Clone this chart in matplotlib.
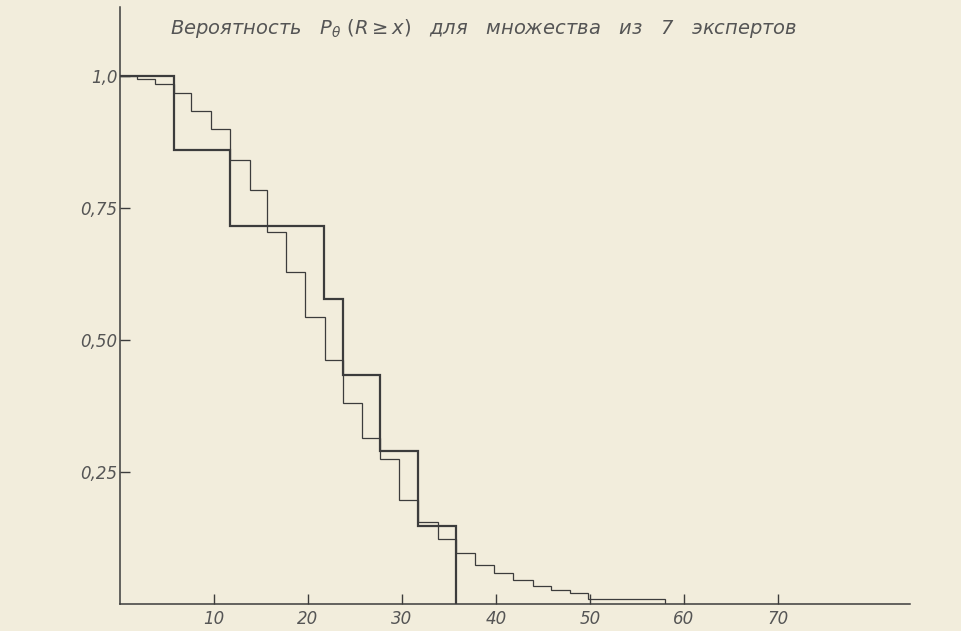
import matplotlib.pyplot as plt

# step curves: x where a new level starts, level from there on
thick_x = [0, 5.7, 11.7, 21.7, 23.7, 27.7, 31.7, 35.7]
thick_p = [1.0, 0.859, 0.716, 0.577, 0.433, 0.290, 0.148, 0.0]

thin_x = [0, 1.8, 3.7, 5.7, 7.6, 9.65, 11.7, 13.8, 15.6, 17.7, 19.7, 21.8,
          23.7, 25.7, 27.7, 29.7, 31.7, 33.8, 35.7, 37.8, 39.8, 41.8, 43.9,
          45.9, 47.9, 49.8, 58.0]
thin_p = [1.0, 0.994, 0.985, 0.967, 0.934, 0.899, 0.841, 0.784, 0.705, 0.629,
          0.544, 0.462, 0.381, 0.315, 0.274, 0.197, 0.156, 0.124, 0.096, 0.073,
          0.059, 0.046, 0.035, 0.027, 0.020, 0.010, 0.004]

x_ticks = [10, 20, 30, 40, 50, 60, 70]
y_ticks = [0.25, 0.50, 0.75, 1.0]
y_labels = ["0,25", "0,50", "0,75", "1,0"]

title = "Вероятность   $P_\\theta$ $(R \\geq x)$   для   множества   из   7   экспертов"

paper = "#f2eddc"
ink = "#3c3c3c"
text_ink = "#555555"

fig = plt.figure(figsize=(9.61, 6.31), dpi=100, facecolor=paper)
ax = fig.add_axes([0.1249, 0.0428, 0.8216, 0.9455])
ax.set_facecolor(paper)

ax.step(thick_x + [thick_x[-1]], thick_p + [0.0], where="post",
        color=ink, lw=1.6, solid_joinstyle="miter")
ax.step(thin_x + [thin_x[-1]], thin_p + [0.0], where="post",
        color=ink, lw=0.9, solid_joinstyle="miter")

ax.set_xlim(0, 84)
ax.set_ylim(0, 1.13)
for side in ["top", "right"]:
    ax.spines[side].set_visible(False)
for side in ["left", "bottom"]:
    ax.spines[side].set_color(ink)
    ax.spines[side].set_linewidth(1.1)

ax.set_xticks(x_ticks)
ax.set_xticklabels([str(v) for v in x_ticks], fontstyle="italic",
                   fontsize=12, color=text_ink)
ax.set_yticks(y_ticks)
ax.set_yticklabels(y_labels, fontstyle="italic", fontsize=12, color=text_ink)
ax.tick_params(axis="both", direction="in", length=7, width=1, color=ink)
ax.tick_params(axis="x", pad=4)
ax.tick_params(axis="y", pad=2)

fig.text(0.177, 0.955, title, fontsize=14, fontstyle="italic",
         color=text_ink, va="center", ha="left")

fig.savefig("out.png", dpi=100, facecolor=paper)
